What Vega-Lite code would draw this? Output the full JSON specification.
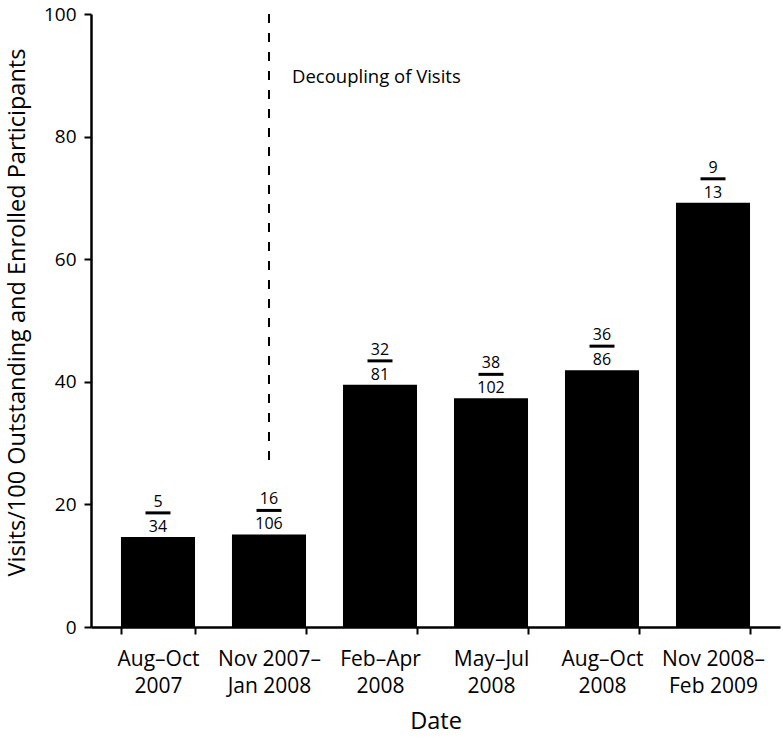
{
  "$schema": "https://vega.github.io/schema/vega-lite/v6.json",
  "width": 689,
  "height": 613,
  "autosize": "none",
  "padding": {"left": 91, "top": 14, "right": 3, "bottom": 111},
  "background": "white",
  "config": {
    "view": {"stroke": null},
    "font": "Open Sans",
    "axis": {
      "domainColor": "black",
      "tickColor": "black",
      "labelColor": "black",
      "titleColor": "black",
      "grid": false,
      "domainWidth": 2.5,
      "tickWidth": 2,
      "tickSize": 7,
      "labelFontSize": 19,
      "titleFontSize": 23.5,
      "titleFontWeight": "normal"
    }
  },
  "datasets": {
    "bars": [
      {"period": "Aug–Oct\n2007", "rate": 14.7, "visits": "5", "enrolled": "34"},
      {"period": "Nov 2007–\nJan 2008", "rate": 15.1, "visits": "16", "enrolled": "106"},
      {"period": "Feb–Apr\n2008", "rate": 39.5, "visits": "32", "enrolled": "81"},
      {"period": "May–Jul\n2008", "rate": 37.3, "visits": "38", "enrolled": "102"},
      {"period": "Aug–Oct\n2008", "rate": 41.9, "visits": "36", "enrolled": "86"},
      {"period": "Nov 2008–\nFeb 2009", "rate": 69.2, "visits": "9", "enrolled": "13"}
    ],
    "note": [
      {"period": "Nov 2007–\nJan 2008", "start": 26, "end": 100, "texty": 88.7, "label": "Decoupling of Visits"}
    ]
  },
  "encoding": {
    "x": {
      "field": "period",
      "type": "nominal",
      "sort": null,
      "title": "Date",
      "scale": {"paddingInner": 0.333, "paddingOuter": 0.27},
      "axis": {
        "tickBand": "extent",
        "labelAngle": 0,
        "labelFontSize": 21,
        "labelExpr": "split(datum.label, '\\n')",
        "labelLineHeight": 27,
        "labelPadding": 14,
        "titlePadding": 13
      }
    }
  },
  "layer": [
    {
      "data": {"name": "bars"},
      "mark": {"type": "bar", "color": "black"},
      "encoding": {
        "y": {
          "field": "rate",
          "type": "quantitative",
          "scale": {"domain": [0, 100], "nice": false},
          "title": "Visits/100 Outstanding and Enrolled Participants",
          "axis": {"values": [0, 20, 40, 60, 80, 100], "labelPadding": 8, "titlePadding": 14, "titleY": 298}
        }
      }
    },
    {
      "data": {"name": "bars"},
      "mark": {"type": "tick", "orient": "horizontal", "color": "black", "opacity": 1, "size": 25, "thickness": 3, "yOffset": -24},
      "encoding": {"y": {"field": "rate", "type": "quantitative"}}
    },
    {
      "data": {"name": "bars"},
      "mark": {"type": "text", "fontSize": 16, "baseline": "alphabetic", "dy": -30, "color": "black"},
      "encoding": {"y": {"field": "rate", "type": "quantitative"}, "text": {"field": "visits"}}
    },
    {
      "data": {"name": "bars"},
      "mark": {"type": "text", "fontSize": 16, "baseline": "alphabetic", "dy": -5, "color": "black"},
      "encoding": {"y": {"field": "rate", "type": "quantitative"}, "text": {"field": "enrolled"}}
    },
    {
      "data": {"name": "note"},
      "mark": {"type": "rule", "color": "black", "strokeWidth": 2, "strokeDash": [9, 10]},
      "encoding": {"y": {"field": "end", "type": "quantitative"}, "y2": {"field": "start"}}
    },
    {
      "data": {"name": "note"},
      "mark": {"type": "text", "fontSize": 18.5, "align": "left", "baseline": "alphabetic", "dx": 23, "color": "black"},
      "encoding": {"y": {"field": "texty", "type": "quantitative"}, "text": {"field": "label"}}
    }
  ]
}
